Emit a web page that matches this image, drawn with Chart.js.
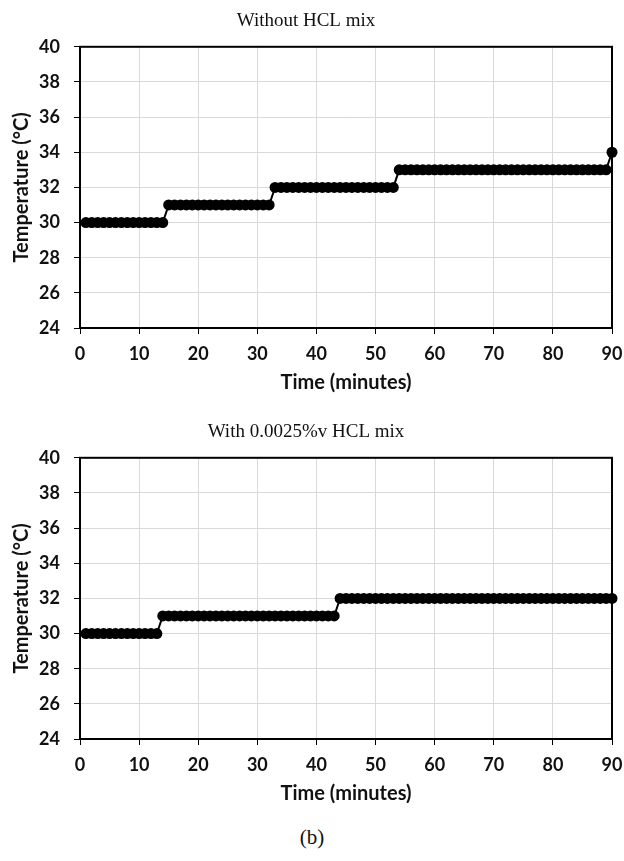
<!DOCTYPE html>
<html>
<head>
<meta charset="utf-8">
<script src="https://cdn.jsdelivr.net/npm/chart.js@4"></script>
<style>
  body { margin: 0; background: #fff; }
  .box { position: absolute; left: 0; width: 624px; height: 400px; }
  #caption { position: absolute; left: 0; width: 624px; top: 825px; text-align: center;
    font-family: "Liberation Serif", serif; font-size: 21px; color: #111; }
</style>
</head>
<body>
<div class="box" style="top:0"><canvas id="chart1"></canvas></div>
<div class="box" style="top:411px"><canvas id="chart2"></canvas></div>
<div id="caption">(b)</div>
<script>
// sample times, one reading per minute
const minutes = [
  1, 2, 3, 4, 5, 6, 7, 8, 9, 10, 11, 12, 13, 14, 15, 16, 17, 18, 19, 20,
  21, 22, 23, 24, 25, 26, 27, 28, 29, 30, 31, 32, 33, 34, 35, 36, 37, 38, 39, 40,
  41, 42, 43, 44, 45, 46, 47, 48, 49, 50, 51, 52, 53, 54, 55, 56, 57, 58, 59, 60,
  61, 62, 63, 64, 65, 66, 67, 68, 69, 70, 71, 72, 73, 74, 75, 76, 77, 78, 79, 80,
  81, 82, 83, 84, 85, 86, 87, 88, 89, 90
];

// temperature without HCL
const tempPlain = [
  30, 30, 30, 30, 30, 30, 30, 30, 30, 30, 30, 30, 30, 30, 31, 31, 31, 31, 31, 31,
  31, 31, 31, 31, 31, 31, 31, 31, 31, 31, 31, 31, 32, 32, 32, 32, 32, 32, 32, 32,
  32, 32, 32, 32, 32, 32, 32, 32, 32, 32, 32, 32, 32, 33, 33, 33, 33, 33, 33, 33,
  33, 33, 33, 33, 33, 33, 33, 33, 33, 33, 33, 33, 33, 33, 33, 33, 33, 33, 33, 33,
  33, 33, 33, 33, 33, 33, 33, 33, 33, 34
];

// temperature with 0.0025%v HCL
const tempHcl = [
  30, 30, 30, 30, 30, 30, 30, 30, 30, 30, 30, 30, 30, 31, 31, 31, 31, 31, 31, 31,
  31, 31, 31, 31, 31, 31, 31, 31, 31, 31, 31, 31, 31, 31, 31, 31, 31, 31, 31, 31,
  31, 31, 31, 32, 32, 32, 32, 32, 32, 32, 32, 32, 32, 32, 32, 32, 32, 32, 32, 32,
  32, 32, 32, 32, 32, 32, 32, 32, 32, 32, 32, 32, 32, 32, 32, 32, 32, 32, 32, 32,
  32, 32, 32, 32, 32, 32, 32, 32, 32, 32
];

const xTicks = [0, 10, 20, 30, 40, 50, 60, 70, 80, 90];
const yTicks = [24, 26, 28, 30, 32, 34, 36, 38, 40];

const tickFont = { family: 'Lato', size: 18, weight: 'bold' };
const axisTitleFont = { family: 'Lato', size: 20, weight: 'bold' };

// box around the plot area
const frame = {
  id: 'frame',
  afterDatasetsDraw(chart) {
    const a = chart.chartArea, ctx = chart.ctx;
    ctx.save();
    ctx.strokeStyle = '#000';
    ctx.lineWidth = 2;
    ctx.strokeRect(a.left, a.top, a.right - a.left, a.bottom - a.top);
    ctx.restore();
  }
};

function makeChart(id, title, temps) {
  const points = minutes.map((m, i) => ({ x: m, y: temps[i] }));
  return new Chart(document.getElementById(id), {
    type: 'line',
    data: {
      datasets: [{
        data: points,
        borderColor: '#000',
        backgroundColor: '#000',
        borderWidth: 2,
        pointRadius: 5.5,
        pointBorderWidth: 0,
        pointBackgroundColor: '#000',
        tension: 0,
        clip: false
      }]
    },
    options: {
      responsive: true,
      maintainAspectRatio: false,
      animation: false,
      layout: { padding: { left: 0, right: 12, top: 0, bottom: 0 } },
      plugins: {
        legend: { display: false },
        tooltip: { enabled: false },
        title: {
          display: true,
          text: title,
          color: '#111',
          font: { family: 'Liberation Serif', size: 19, weight: 'normal' },
          padding: { top: 10, bottom: 14 }
        }
      },
      scales: {
        x: {
          type: 'linear',
          min: 0,
          max: 90,
          afterBuildTicks: s => { s.ticks = xTicks.map(v => ({ value: v })); },
          afterFit: s => { s.height = 72; s.paddingLeft = 0; s.paddingRight = 0; },
          grid: { color: '#d9d9d9', tickColor: '#000', tickLength: 6, lineWidth: 1 },
          border: { color: '#000', width: 2 },
          ticks: { color: '#111', font: tickFont, padding: 9, maxRotation: 0 },
          title: {
            display: true,
            text: 'Time (minutes)',
            color: '#111',
            font: axisTitleFont,
            padding: { top: 0, bottom: 5 }
          }
        },
        y: {
          min: 24,
          max: 40,
          afterBuildTicks: s => { s.ticks = yTicks.map(v => ({ value: v })); },
          afterFit: s => { s.width = 80; s.paddingTop = 0; s.paddingBottom = 0; },
          grid: { color: '#d9d9d9', tickColor: '#000', tickLength: 6, lineWidth: 1 },
          border: { color: '#000', width: 2 },
          ticks: { color: '#111', font: tickFont, padding: 14 },
          title: {
            display: true,
            text: 'Temperature (°C)',
            color: '#111',
            font: axisTitleFont,
            padding: { top: 10, bottom: 0 }
          }
        }
      }
    },
    plugins: [frame]
  });
}

makeChart('chart1', 'Without HCL mix', tempPlain);
makeChart('chart2', 'With 0.0025%v HCL mix', tempHcl);
</script>
</body>
</html>
